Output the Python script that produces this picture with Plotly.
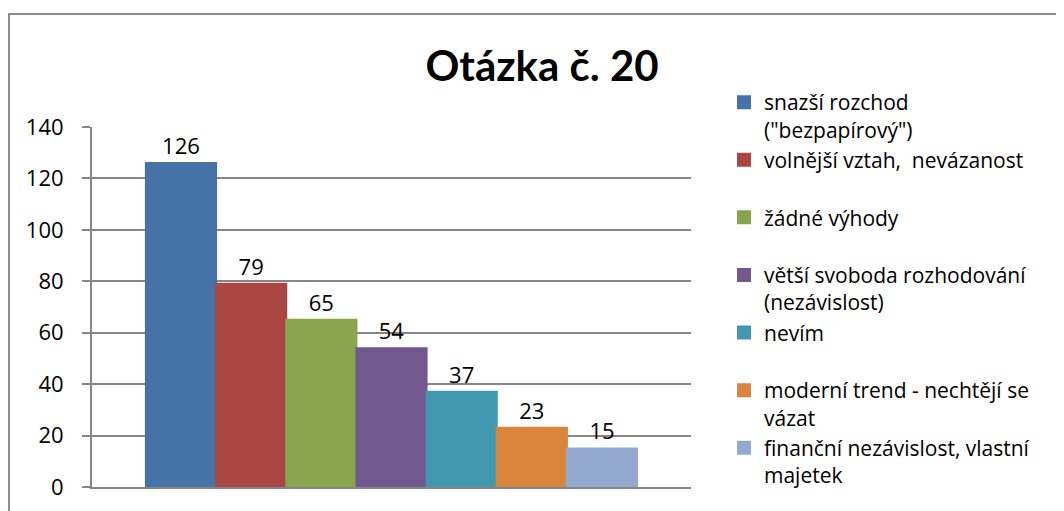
import plotly.graph_objects as go

categories = ["Otázka č. 20"]
series_names = [
    "snazší rozchod<br>(\"bezpapírový\")",
    "volnější vztah,  nevázanost<br>\u00a0",
    "žádné výhody<br>\u00a0",
    "větší svoboda rozhodování<br>(nezávislost)",
    "nevím<br>\u00a0",
    "moderní trend - nechtějí se<br>vázat",
    "finanční nezávislost, vlastní<br>majetek",
]
values = [126, 79, 65, 54, 37, 23, 15]
colors = ["#4572A7", "#AA4643", "#89A54E", "#71588F", "#4198AF", "#DB843D", "#93A9CF"]
y_ticks = [0, 20, 40, 60, 80, 100, 120, 140]

FONT = "Open Sans"
GRID = "#868686"

fig = go.Figure()
for name, v, c in zip(series_names, values, colors):
    fig.add_trace(go.Bar(
        x=[categories[0]], y=[v], name=name,
        marker=dict(color=c, line=dict(width=2, color=c)),
        text=[str(v)], textposition="outside",
        textfont=dict(family=FONT, size=22, color="#000000"),
        cliponaxis=False, legendgroup=name,
    ))

ml, mr, mt, mb = 84, 381, 119, 32
pw = 1064 - ml - mr
ph = 511 - mt - mb

fig.update_layout(
    width=1064, height=511,
    margin=dict(l=ml, r=mr, t=mt, b=mb, pad=0, autoexpand=False),
    paper_bgcolor="white", plot_bgcolor="white",
    barmode="group", bargap=0.18, bargroupgap=0,
    font=dict(family=FONT, size=22, color="#000000"),
    title=dict(text="<b>Otázka č. 20</b>", font=dict(family="Lato", size=42, color="#000000"),
               x=534 / 1064, xanchor="center", xref="container",
               y=1 - 58 / 511, yanchor="middle", yref="container"),
    showlegend=True,
    legend=dict(x=(716 - ml) / pw, xanchor="left", y=1 + (mt - 74) / ph, yanchor="top",
                font=dict(family=FONT, size=21, color="#000000"),
                valign="top", tracegroupgap=0, traceorder="normal",
                maxheight=511, bgcolor="rgba(0,0,0,0)"),
    xaxis=dict(showticklabels=False, showline=True, linecolor=GRID, linewidth=2,
               ticks="", showgrid=False, zeroline=False),
    yaxis=dict(range=[0, 140], tickvals=y_ticks, showgrid=True, gridcolor=GRID, gridwidth=1.5,
               showline=True, linecolor=GRID, linewidth=2, ticks="outside", ticklen=8,
               tickcolor=GRID, tickwidth=1.5, zeroline=False, ticklabelstandoff=14,
               tickfont=dict(family=FONT, size=22, color="#000000")),
    shapes=[dict(type="rect", xref="paper", yref="paper",
                 x0=(1 - ml) / pw, x1=3, y0=-1, y1=(511 - mb - 6) / ph,
                 line=dict(color="#8c8c8c", width=2), fillcolor="rgba(0,0,0,0)", layer="below")],
)

fig.write_html("out.html")
